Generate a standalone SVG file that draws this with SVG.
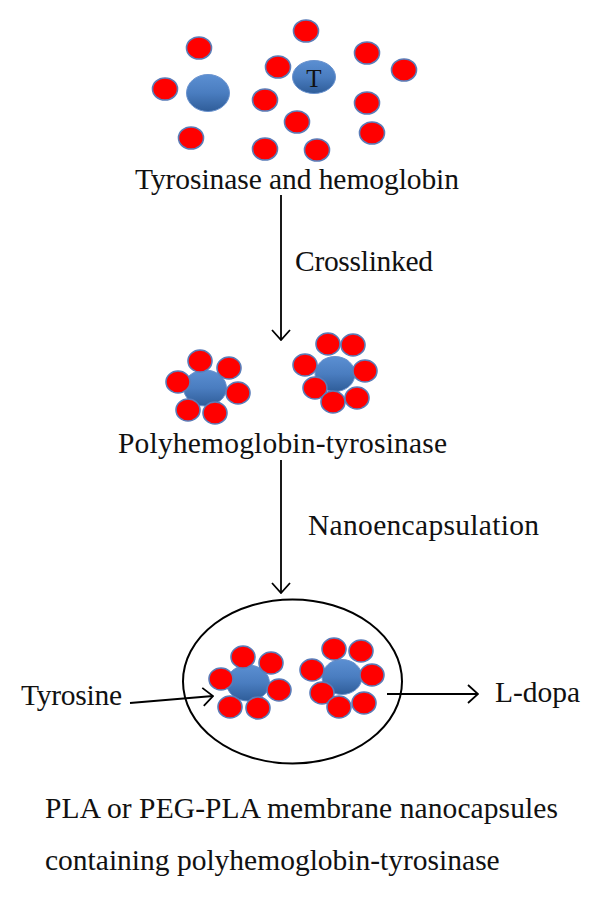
<svg xmlns="http://www.w3.org/2000/svg" width="600" height="900" viewBox="0 0 600 900">
<defs>
<linearGradient id="blueGrad" x1="0" y1="0" x2="0" y2="1">
<stop offset="0" stop-color="#5b8fd2"/>
<stop offset="0.5" stop-color="#4a7dc0"/>
<stop offset="1" stop-color="#2f5d99"/>
</linearGradient>
<marker id="arrow" viewBox="0 0 12 20" refX="11" refY="10" markerWidth="12" markerHeight="20" markerUnits="userSpaceOnUse" orient="auto">
<path d="M1,1 L11,10 L1,19" fill="none" stroke="#000" stroke-width="1.8"/>
</marker>
<style>
.red{fill:#ff0000;stroke:#5a7cb8;stroke-width:1.6}
.blue{fill:url(#blueGrad);stroke:#6a93cf;stroke-width:1}
.lbl{font-family:"Liberation Serif","Times New Roman",serif;font-size:29.5px;fill:#111}
.conn{stroke:#000;stroke-width:1.8;fill:none}
</style>
</defs>
<rect width="600" height="900" fill="#fff"/>

<g id="free-molecules">
<ellipse class="blue" cx="208" cy="93" rx="21.5" ry="18.5"/>
<ellipse class="blue" cx="314" cy="77" rx="21.5" ry="16.5"/>
<text x="314" y="87" text-anchor="middle" style="font-family:'Liberation Serif','Times New Roman',serif;font-size:25px;fill:#111">T</text>
<ellipse class="red" cx="199" cy="48" rx="12.5" ry="11"/>
<ellipse class="red" cx="165" cy="89" rx="12.5" ry="11"/>
<ellipse class="red" cx="191" cy="138" rx="12.5" ry="11"/>
<ellipse class="red" cx="306" cy="31" rx="12.5" ry="11"/>
<ellipse class="red" cx="278" cy="67" rx="12.5" ry="11"/>
<ellipse class="red" cx="367" cy="53" rx="12.5" ry="11"/>
<ellipse class="red" cx="404" cy="70" rx="12.5" ry="11"/>
<ellipse class="red" cx="265" cy="100" rx="12.5" ry="11"/>
<ellipse class="red" cx="367" cy="103" rx="12.5" ry="11"/>
<ellipse class="red" cx="297" cy="122" rx="12.5" ry="11"/>
<ellipse class="red" cx="372" cy="133" rx="12.5" ry="11"/>
<ellipse class="red" cx="265" cy="149" rx="12.5" ry="11"/>
<ellipse class="red" cx="317" cy="150" rx="12.5" ry="11"/>
<text class="lbl" x="135" y="189" textLength="324" lengthAdjust="spacing">Tyrosinase and hemoglobin</text>
</g>

<g id="polyhemoglobin">
<ellipse class="blue" cx="205" cy="388" rx="21.5" ry="18"/>
<ellipse class="red" cx="200" cy="361" rx="12" ry="11"/>
<ellipse class="red" cx="229" cy="368" rx="12" ry="11"/>
<ellipse class="red" cx="178" cy="382" rx="12" ry="11"/>
<ellipse class="red" cx="238" cy="393" rx="12" ry="11"/>
<ellipse class="red" cx="188" cy="410" rx="12" ry="11"/>
<ellipse class="red" cx="215" cy="413" rx="12" ry="11"/>
<ellipse class="blue" cx="335" cy="374" rx="20" ry="17.5"/>
<ellipse class="red" cx="328" cy="344" rx="12" ry="11"/>
<ellipse class="red" cx="353" cy="345" rx="12" ry="11"/>
<ellipse class="red" cx="305" cy="365" rx="12" ry="11"/>
<ellipse class="red" cx="365" cy="371" rx="12" ry="11"/>
<ellipse class="red" cx="315" cy="388" rx="12" ry="11"/>
<ellipse class="red" cx="333" cy="402" rx="12" ry="11"/>
<ellipse class="red" cx="357" cy="398" rx="12" ry="11"/>
<text class="lbl" x="118" y="453" textLength="329" lengthAdjust="spacing">Polyhemoglobin-tyrosinase</text>
</g>

<g id="nanocapsule">
<ellipse cx="292.5" cy="681.5" rx="109.5" ry="82" fill="none" stroke="#000" stroke-width="2"/>
<ellipse class="blue" cx="248" cy="683" rx="21.5" ry="18"/>
<ellipse class="red" cx="243" cy="657" rx="12" ry="11"/>
<ellipse class="red" cx="271" cy="663" rx="12" ry="11"/>
<ellipse class="red" cx="221" cy="679" rx="12" ry="11"/>
<ellipse class="red" cx="279" cy="690" rx="12" ry="11"/>
<ellipse class="red" cx="230" cy="707" rx="12" ry="11"/>
<ellipse class="red" cx="258" cy="708" rx="12" ry="11"/>
<ellipse class="blue" cx="342" cy="677" rx="20" ry="17.5"/>
<ellipse class="red" cx="334" cy="649" rx="12" ry="11"/>
<ellipse class="red" cx="361" cy="651" rx="12" ry="11"/>
<ellipse class="red" cx="312" cy="670" rx="12" ry="11"/>
<ellipse class="red" cx="372" cy="675" rx="12" ry="11"/>
<ellipse class="red" cx="322" cy="693" rx="12" ry="11"/>
<ellipse class="red" cx="339" cy="707" rx="12" ry="11"/>
<ellipse class="red" cx="364" cy="703" rx="12" ry="11"/>
</g>

<g id="tyrosine">
<text class="lbl" x="21" y="705" textLength="101" lengthAdjust="spacing">Tyrosine</text>
</g>
<g id="ldopa">
<text class="lbl" x="495" y="702">L-dopa</text>
</g>

<g id="caption">
<text class="lbl" x="45" y="818" textLength="513" lengthAdjust="spacing">PLA or PEG-PLA membrane nanocapsules</text>
<text class="lbl" x="45" y="870">containing polyhemoglobin-tyrosinase</text>
</g>

<g id="connectors">
<line class="conn" x1="281" y1="195" x2="281" y2="340" marker-end="url(#arrow)"/>
<text class="lbl" x="295" y="271" textLength="138" lengthAdjust="spacing">Crosslinked</text>
<line class="conn" x1="281" y1="460" x2="281" y2="593" marker-end="url(#arrow)"/>
<text class="lbl" x="308" y="535" textLength="231" lengthAdjust="spacing">Nanoencapsulation</text>
<line class="conn" x1="130" y1="703" x2="213" y2="696" marker-end="url(#arrow)"/>
<line class="conn" x1="387" y1="694" x2="478" y2="694" marker-end="url(#arrow)"/>
</g>
</svg>
